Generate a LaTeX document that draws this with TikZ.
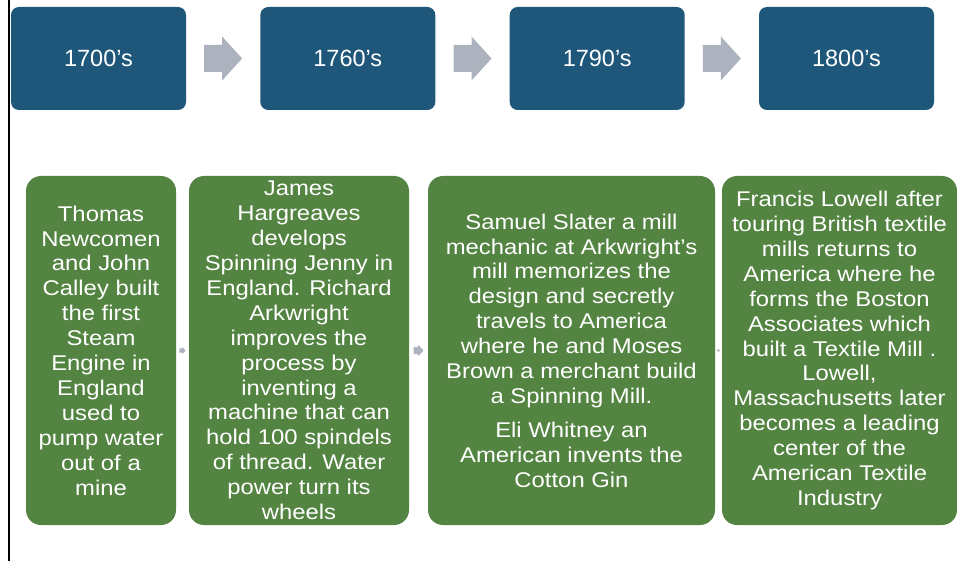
\documentclass[tikz,border=0pt]{standalone}
\usepackage{fontspec}
\setmainfont{Liberation Sans}
\newfontfamily\gfont{Liberation Sans}[FakeStretch=1.12]
\usetikzlibrary{calc}
\definecolor{tlblue}{RGB}{30,87,122}
\definecolor{tlgreen}{RGB}{84,132,66}
\definecolor{tlgray}{RGB}{173,179,190}
\begin{document}
\begin{tikzpicture}[x=1pt,y=-1pt,
  yearbox/.style={fill=tlblue, rounded corners=8pt, minimum width=175pt, minimum height=103pt,
    inner sep=0pt, text=white, font=\fontsize{23.5}{26}\selectfont},
  eventbox/.style={fill=tlgreen, rounded corners=15pt, minimum height=349pt, inner sep=0pt,
    text=white, align=center, font=\gfont\fontsize{21.3}{24.9}\selectfont},
  arrowshape/.style={fill=tlgray}
]
\useasboundingbox (0,0) rectangle (957,561);
\fill[white] (0,0) rectangle (957,561);
\draw[line width=2pt] (9,0) -- (9,561);

% year boxes
\node[yearbox] (y1) at (98.5,58.5) {1700’s};
\node[yearbox] (y2) at (347.8,58.5) {1760’s};
\node[yearbox] (y3) at (597.2,58.5) {1790’s};
\node[yearbox] (y4) at (846.5,58.5) {1800’s};

% big arrows between year boxes
\foreach \a/\b in {y1/y2,y2/y3,y3/y4}{
  \coordinate (m) at ($(\a.east)!0.5!(\b.west)$);
  \fill[arrowshape, shift={(m)}] (-19,-13.5) -- (-1,-13.5) -- (-1,-22) -- (19,0)
     -- (-1,22) -- (-1,13.5) -- (-19,13.5) -- cycle;
}

% event boxes
\node[eventbox, minimum width=150pt] (g1) at (101,350.5) {Thomas\\Newcomen\\and John\\Calley built\\the first\\Steam\\Engine in\\England\\used to\\pump water\\out of a\\mine};
\node[eventbox, minimum width=220pt] (g2) at (299,350.5) {James\\Hargreaves\\develops\\Spinning Jenny in\\England. Richard\\Arkwright\\improves the\\process by\\inventing a\\machine that can\\hold 100 spindels\\of thread. Water\\power turn its\\wheels};
\node[eventbox, minimum width=287pt] (g3) at (571.5,350.5) {Samuel Slater a mill\\mechanic at Arkwright’s\\mill memorizes the\\design and secretly\\travels to America\\where he and Moses\\Brown a merchant build\\a Spinning Mill.\\[9pt]Eli Whitney an\\American invents the\\Cotton Gin};
\node[eventbox, minimum width=235pt] (g4) at (839.5,350.5) {Francis Lowell after\\touring British textile\\mills returns to\\America where he\\forms the Boston\\Associates which\\built a Textile Mill .\\Lowell,\\Massachusetts later\\becomes a leading\\center of the\\American Textile\\Industry};

% small arrows between event boxes
\foreach \a/\b/\s in {g1/g2/0.16,g2/g3/0.26,g3/g4/0.07}{
  \coordinate (n) at ($(\a.east)!0.5!(\b.west)$);
  \fill[arrowshape, shift={(n)}, scale=\s] (-19,-13.5) -- (-1,-13.5) -- (-1,-22) -- (19,0)
     -- (-1,22) -- (-1,13.5) -- (-19,13.5) -- cycle;
}
\end{tikzpicture}
\end{document}
